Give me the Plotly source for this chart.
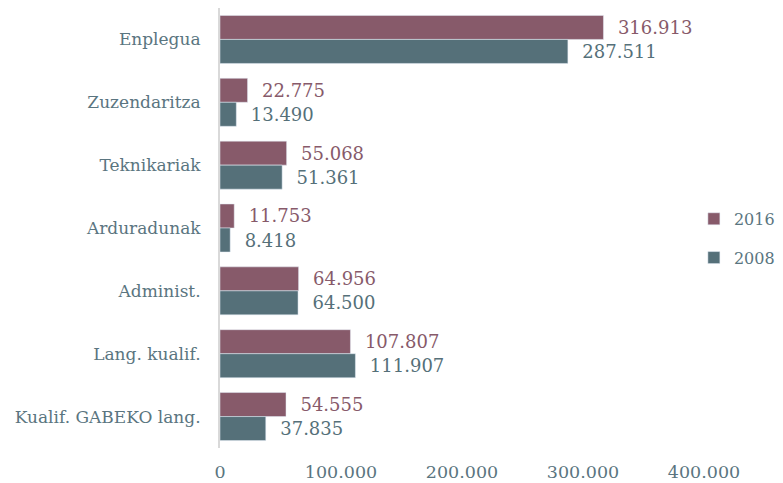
import plotly.graph_objects as go

categories = ["Enplegua", "Zuzendaritza", "Teknikariak", "Arduradunak",
              "Administ.", "Lang. kualif.", "Kualif. GABEKO lang."]
values_2016 = [316913, 22775, 55068, 11753, 64956, 107807, 54555]
values_2008 = [287511, 13490, 51361, 8418, 64500, 111907, 37835]
tick_vals = [0, 100000, 200000, 300000, 400000]

c2016 = "#875a6a"
c2008 = "#557079"
txt = "#5a7580"
font_family = "DejaVu Serif"
pad = "\u00a0\u00a0"

fig = go.Figure()
fig.add_trace(go.Bar(
    y=categories, x=values_2016, name="2016", orientation="h", legendgroup="a",
    marker=dict(color=c2016), texttemplate=pad + "%{x:,d}", textposition="outside",
    textfont=dict(color=c2016, size=18, family=font_family), cliponaxis=False,
))
fig.add_trace(go.Bar(
    y=categories, x=values_2008, name="2008", orientation="h", legendgroup="b",
    marker=dict(color=c2008), texttemplate=pad + "%{x:,d}", textposition="outside",
    textfont=dict(color=c2008, size=18, family=font_family), cliponaxis=False,
))

# page body has an 8px margin, so the figure is 8px smaller on each axis
fig.update_layout(
    width=775, height=475,
    barmode="group", bargap=0.236, bargroupgap=0,
    separators=",.",
    plot_bgcolor="white", paper_bgcolor="white",
    margin=dict(l=212, r=79, t=0, b=35, autoexpand=False),
    font=dict(family=font_family, color=txt, size=16),
    xaxis=dict(range=[0, 400000], tickvals=tick_vals, tickformat=",d",
               showgrid=False, zeroline=False, showline=False, automargin=False,
               tickfont=dict(size=17.5, color=txt), ticklabelstandoff=11),
    yaxis=dict(autorange="reversed", showgrid=False, showline=True, automargin=False,
               linecolor="#d9d9d9", linewidth=2, ticks="",
               tickfont=dict(size=17, color=txt), ticklabelstandoff=14),
    legend=dict(x=0.885, y=0.515, xref="container", yref="container",
                yanchor="middle", xanchor="left", traceorder="grouped",
                font=dict(size=16), tracegroupgap=15, itemwidth=30),
)
fig.write_html("out.html")
